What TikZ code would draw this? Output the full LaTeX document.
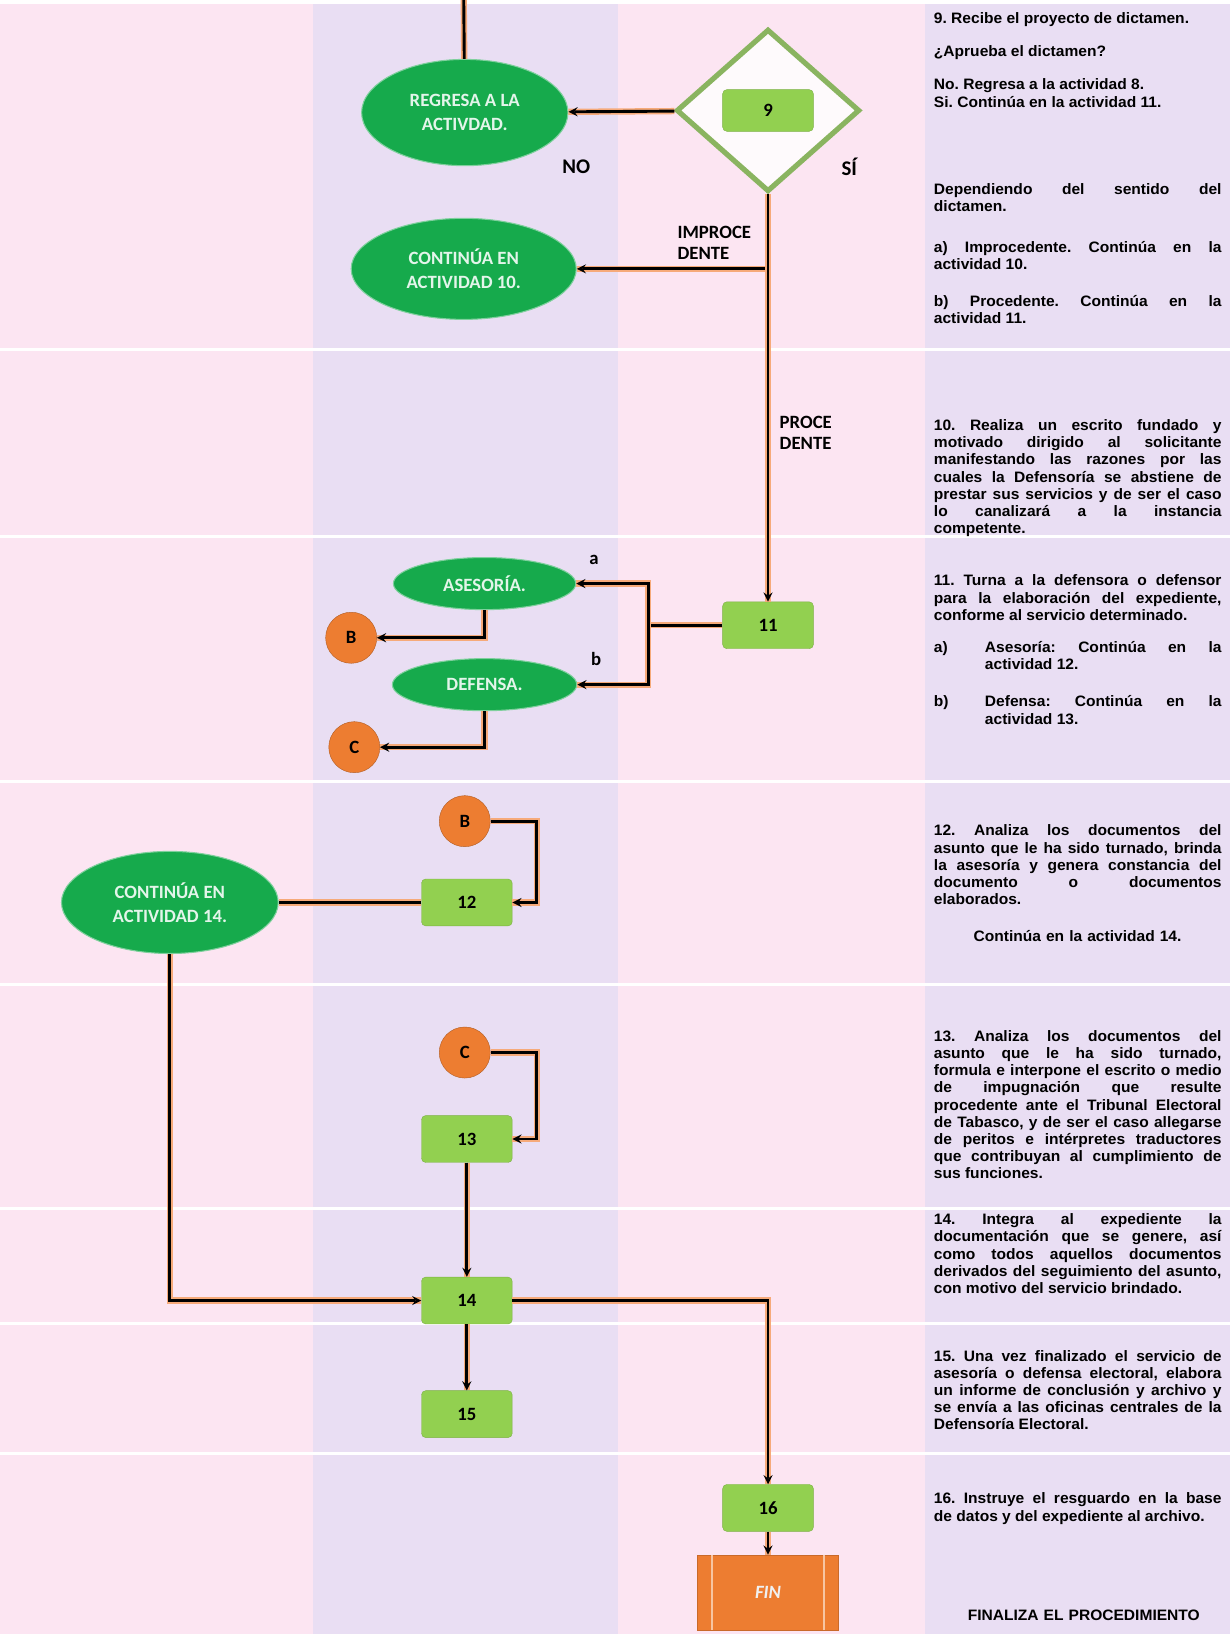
\documentclass[tikz,border=0pt]{standalone}
\usepackage{fontspec}
\usepackage{xcolor}
\usepackage{tikz}
\usetikzlibrary{shapes.geometric, arrows, positioning}
\newfontfamily\descfont[FakeStretch=1.03]{Liberation Sans}
\newfontfamily\flowfont{Carlito}
\definecolor{lanepink}{RGB}{252, 229, 242}
\definecolor{lanelilac}{RGB}{233, 222, 243}
\definecolor{ellgreen}{RGB}{22, 170, 76}
\definecolor{boxgreen}{RGB}{146, 208, 80}
\definecolor{circorange}{RGB}{237, 125, 49}
\definecolor{glow}{RGB}{246, 170, 122}
\definecolor{rhombgreen}{RGB}{138, 180, 96}
\frenchspacing

\begin{document}
\begin{tikzpicture}[
    x=1pt, y=-1pt,
    ellipsebox/.style={ellipse, draw=ellgreen!55!white, line width=1pt, fill=ellgreen, text=white!88!ellgreen, inner sep=0pt, align=center, font=\flowfont\bfseries\fontsize{18}{23}\selectfont},
    box/.style={rectangle, rounded corners=4pt, draw=boxgreen!85!black, fill=boxgreen, minimum width=87pt, minimum height=45pt, font=\flowfont\bfseries\fontsize{18}{22}\selectfont},
    connector/.style={circle, draw=circorange!75!black, fill=circorange, minimum size=49pt, inner sep=0pt, font=\flowfont\bfseries\fontsize{18}{22}\selectfont},
    flowlabel/.style={inner sep=0pt, align=left, font=\flowfont\bfseries\fontsize{18}{20}\selectfont},
    desc/.style={anchor=north west, inner sep=0pt, text width=276pt, align=justify, font=\descfont\bfseries\fontsize{14.5}{16.5}\selectfont},
    link/.style={line width=2.8pt, preaction={draw=glow, line width=6pt, arrows=-}},
    arrow/.style={link, ->, >=stealth}
]
    \useasboundingbox (0,0) rectangle (1180,1568);
    \fill[white] (0,0) rectangle (1180,1568);
    \fill[lanepink] (0,4) rectangle (300,1568);
    \fill[lanelilac] (300,4) rectangle (593,1568);
    \fill[lanepink] (593,4) rectangle (888,1568);
    \fill[lanelilac] (888,4) rectangle (1180,1568);
    \foreach \y in {335, 515, 750, 945, 1160, 1270, 1395}
        \draw[white, line width=3pt] (0,\y) -- (1180,\y);

    \node[ellipsebox, minimum width=198pt, minimum height=102pt] (regresa) at (446,108) {REGRESA A LA\\ACTIVDAD.};
    \node[diamond, draw=rhombgreen, line width=5pt, fill=white!80!lanepink, minimum width=176pt, minimum height=156pt, inner sep=0pt] (d9) at (737,106) {};
    \node[box, minimum height=40pt] (n9) at (d9) {9};
    \node[flowlabel, font=\flowfont\bfseries\fontsize{20}{22}\selectfont] (no) at (553,160) {NO};
    \node[flowlabel, font=\flowfont\bfseries\fontsize{20}{22}\selectfont] (si) at (815,160) {SÍ};
    \node[ellipsebox, minimum width=216pt, minimum height=97pt] (cont10) at (445,258) {CONTINÚA EN\\ACTIVIDAD 10.};
    \node[flowlabel, anchor=west] (improc) at (650,233) {IMPROCE\\DENTE};
    \node[flowlabel, anchor=west] (proc) at (748,415) {PROCE\\DENTE};
    \coordinate (imp) at (737,258);

    \node[box] (n11) at (737,600) {11};
    \coordinate (split) at (622,600);
    \node[ellipsebox, minimum width=175pt, minimum height=50pt] (asesoria) at (465,560) {ASESORÍA.};
    \node[ellipsebox, minimum width=177pt, minimum height=50pt] (defensa) at (465,657) {DEFENSA.};
    \node[flowlabel] (la) at (570,537) {a};
    \node[flowlabel] (lb) at (572,632) {b};
    \node[connector] (b1) at (337,612) {B};
    \node[connector] (c1) at (340,717) {C};

    \node[connector] (b2) at (446,788) {B};
    \node[box] (n12) at (448,866) {12};
    \node[ellipsebox, minimum width=208pt, minimum height=98pt] (cont14) at (163,866) {CONTINÚA EN\\ACTIVIDAD 14.};
    \node[connector] (c2) at (446,1010) {C};
    \node[box] (n13) at (448,1093) {13};
    \node[box] (n14) at (448,1248) {14};
    \node[box] (n15) at (448,1357) {15};
    \node[box] (n16) at (737,1447) {16};
    \node[rectangle, draw=circorange!85!black, fill=circorange, minimum width=135pt, minimum height=72pt, text=white!88!gray, font=\flowfont\bfseries\itshape\fontsize{18}{22}\selectfont] (fin) at (737,1528) {FIN};
    \draw[white!55!circorange, line width=1.2pt] ([xshift=14pt]fin.north west) -- ([xshift=14pt]fin.south west);
    \draw[white!55!circorange, line width=1.2pt] ([xshift=-14pt]fin.north east) -- ([xshift=-14pt]fin.south east);

    \coordinate (top) at (445,0);
    \draw[link] (top) -- (regresa);
    \draw[arrow] (d9) -- (regresa);
    \draw[arrow] (imp) -- (cont10);
    \draw[arrow] (d9) -- (n11);
    \draw[link] (n11) -- (split);
    \draw[arrow, <->] (asesoria) -| (split) |- (defensa);
    \draw[arrow] (asesoria) |- (b1);
    \draw[arrow] (defensa) |- (c1);
    \draw[arrow] (b2) -- ++(69,0) |- (n12);
    \draw[link] (n12) -- (cont14);
    \draw[arrow] (cont14) |- (n14);
    \draw[arrow] (c2) -- ++(69,0) |- (n13);
    \draw[arrow] (n13) -- (n14);
    \draw[arrow] (n14) -- (n15);
    \draw[arrow] (n14) -| (n16);
    \draw[arrow] (n16) -- (fin);

    \node[desc] (t9a) at (896,11.5) {9. Recibe el proyecto de dictamen.};
    \node[desc] (t9b) at (896,43.5) {¿Aprueba el dictamen?};
    \node[desc] (t9c) at (896,75.5) {No. Regresa a la actividad 8.\\Si. Continúa en la actividad 11.};
    \node[desc] (t9d) at (896,175.5) {Dependiendo del sentido del\linebreak dictamen.};
    \node[desc] (t9e) at (896,231.5) {a) Improcedente. Continúa en la\linebreak actividad 10.};
    \node[desc] (t9f) at (896,283.5) {b) Procedente. Continúa en la\linebreak actividad 11.};
    \node[desc] (t10) at (896,402.5) {10. Realiza un escrito fundado y\linebreak motivado dirigido al solicitante\linebreak manifestando las razones por las\linebreak cuales la Defensoría se abstiene de\linebreak prestar sus servicios y de ser el caso\linebreak lo canalizará a la instancia\linebreak competente.};
    \node[desc] (t11) at (896,551.5) {11. Turna a la defensora o defensor\linebreak para la elaboración del expediente,\linebreak conforme al servicio determinado.};
    \node[desc] (t11a) at (896,615.5) {\hangindent=49pt\hangafter=1\makebox[49pt][l]{a)}Asesoría: Continúa en la\linebreak actividad 12.\par};
    \node[desc] (t11b) at (896,667.5) {\hangindent=49pt\hangafter=1\makebox[49pt][l]{b)}Defensa: Continúa en la\linebreak actividad 13.\par};
    \node[desc] (t12) at (896,791.5) {12. Analiza los documentos del\linebreak asunto que le ha sido turnado, brinda\linebreak la asesoría y genera constancia del\linebreak documento o documentos\linebreak elaborados.};
    \node[desc, anchor=north, align=center] (t12b) at (1034,892.5) {Continúa en la actividad 14.};
    \node[desc] (t13) at (896,988.5) {13. Analiza los documentos del\linebreak asunto que le ha sido turnado,\linebreak formula e interpone el escrito o medio\linebreak de impugnación que resulte\linebreak procedente ante el Tribunal Electoral\linebreak de Tabasco, y de ser el caso allegarse\linebreak de peritos e intérpretes traductores\linebreak que contribuyan al cumplimiento de\linebreak sus funciones.};
    \node[desc] (t14) at (896,1164.5) {14. Integra al expediente la\linebreak documentación que se genere, así\linebreak como todos aquellos documentos\linebreak derivados del seguimiento del asunto,\linebreak con motivo del servicio brindado.};
    \node[desc] (t15) at (896,1295.5) {15. Una vez finalizado el servicio de\linebreak asesoría o defensa electoral, elabora\linebreak un informe de conclusión y archivo y\linebreak se envía a las oficinas centrales de la\linebreak Defensoría Electoral.};
    \node[desc] (t16) at (896,1432.5) {16. Instruye el resguardo en la base\linebreak de datos y del expediente al archivo.};
    \node[desc, anchor=north, align=center] (tend) at (1040,1544.5) {FINALIZA EL PROCEDIMIENTO};
\end{tikzpicture}
\end{document}
